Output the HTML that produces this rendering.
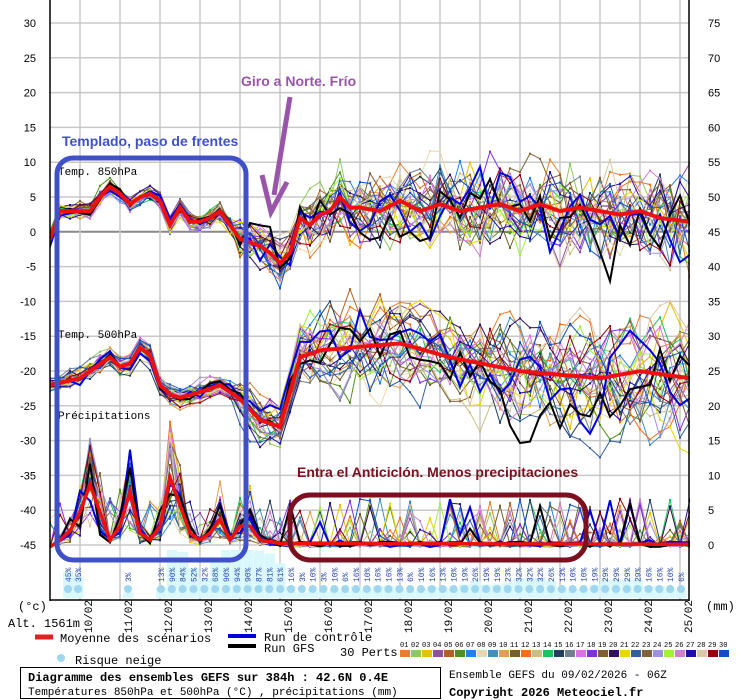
<!DOCTYPE html>
<html><head><meta charset="utf-8"><style>
body{margin:0;background:#fff;}
svg{display:block;font-family:"Liberation Mono",monospace;}
</style></head><body>
<svg id="s" width="740" height="700" xmlns="http://www.w3.org/2000/svg">
<rect width="740" height="700" fill="#fff"/>
<g id="grid"></g>
<g id="cyan"></g>
<g id="series" clip-path="url(#cp)"></g>
<defs><clipPath id="cp"><rect x="50" y="0" width="640" height="600"/></clipPath></defs>
<g id="fg"></g>
<line x1="50" y1="0" x2="50" y2="601" stroke="#000" stroke-width="1.5"/>
<line x1="689" y1="0" x2="689" y2="601" stroke="#000" stroke-width="1.5"/>
<line x1="50" y1="600" x2="689" y2="600" stroke="#000" stroke-width="1.5"/>
<g font-size="11" fill="#000">
<text x="58" y="175">Temp. 850hPa</text>
<text x="58" y="338">Temp. 500hPa</text>
<text x="58" y="419">Précipitations</text>
<text x="18" y="610" font-size="12">(°c)</text>
<text x="706" y="610" font-size="12">(mm)</text>
<text x="8" y="627" font-size="12">Alt. 1561m</text>
</g>
<rect x="57" y="158" width="189" height="402" rx="16" fill="none" stroke="#4050c8" stroke-width="5"/>
<text x="62" y="146" font-family="Liberation Sans,sans-serif" font-weight="bold" font-size="14" fill="#4050c8">Templado, paso de frentes</text>
<text x="241" y="86" font-family="Liberation Sans,sans-serif" font-weight="bold" font-size="14" fill="#9955aa">Giro a Norte. Frío</text>
<line x1="290" y1="97" x2="274" y2="195" stroke="#9955aa" stroke-width="5"/>
<polyline points="262,175 271,212 287,182" fill="none" stroke="#9955aa" stroke-width="5"/>
<rect x="290" y="495" width="296" height="65" rx="20" fill="none" stroke="#7a1020" stroke-width="5"/>
<text x="297" y="477" font-family="Liberation Sans,sans-serif" font-weight="bold" font-size="14" fill="#7a1020">Entra el Anticiclón. Menos precipitaciones</text>
<line x1="35" y1="637" x2="53" y2="637" stroke="#e02020" stroke-width="5"/>
<text x="60" y="642" font-size="12">Moyenne des scénarios</text>
<line x1="228" y1="636" x2="256" y2="636" stroke="#0000dd" stroke-width="4"/>
<text x="264" y="641" font-size="12">Run de contrôle</text>
<line x1="228" y1="646" x2="256" y2="646" stroke="#000" stroke-width="4"/>
<text x="264" y="652" font-size="12">Run GFS</text>
<text x="340" y="656" font-size="12">30 Perts.</text>
<g id="perts"></g>
<circle cx="61" cy="658" r="4" fill="#9fd6f0"/>
<text x="75" y="664" font-size="12">Risque neige</text>
<rect x="20.5" y="667.5" width="420" height="31" fill="none" stroke="#000"/>
<text x="28" y="681" font-size="12" font-weight="bold">Diagramme des ensembles GEFS sur 384h : 42.6N 0.4E</text>
<text x="28" y="695" font-size="11">Températures 850hPa et 500hPa (°C) , précipitations (mm)</text>
<text x="449" y="678" font-size="11">Ensemble GEFS du 09/02/2026 - 06Z</text>
<text x="449" y="696" font-size="12" font-weight="bold">Copyright 2026 Meteociel.fr</text>
</svg>
<script>
(function(){
var NS="http://www.w3.org/2000/svg";
function el(p,t,a,txt){var e=document.createElementNS(NS,t);for(var k in a)e.setAttribute(k,a[k]);if(txt!=null)e.textContent=txt;p.appendChild(e);return e;}
var grid=document.getElementById('grid'),ser=document.getElementById('series'),cy=document.getElementById('cyan'),fg=document.getElementById('fg');
for(var i=0;i<16;i++){var y=23+i*34.8;el(grid,'line',{x1:50,x2:689,y1:y,y2:y,stroke:i==6?'#888':'#c8c8c8','stroke-width':i==6?2:1.5});}
for(var x=80;x<689;x+=40){el(grid,'line',{x1:x,x2:x,y1:0,y2:600,stroke:'#c8c8c8','stroke-width':1.5});}
var L=[30,25,20,15,10,5,0,-5,-10,-15,-20,-25,-30,-35,-40,-45];
for(var i=0;i<16;i++){el(fg,'text',{x:36,y:23+i*34.8+4,'text-anchor':'end','font-size':11,'font-family':'Liberation Sans,sans-serif'},L[i]);el(fg,'text',{x:708,y:23+i*34.8+4,'font-size':11,'font-family':'Liberation Sans,sans-serif'},75-5*i);}
for(var d=0;d<16;d++){var x=80+d*40+12;var dd=(10+d)+'/02';el(fg,'text',{x:0,y:0,'font-size':11,transform:'translate('+x+',633) rotate(-90)'},dd);}
var cols=['#e08030','#90c860','#e8c000','#9050a0','#b06020','#509020','#2080f0','#e8d8b0','#4090c0','#e0a050','#706030','#f07020','#c8c080','#20c060','#204060','#708090','#e070e0','#8030e0','#806030','#301060','#e8d800','#3060a0','#806040','#a090e0','#a0f040','#d080d0','#2010a0','#d8c8a8','#900010','#1050c0'];
var pg=document.getElementById('perts');
for(var i=0;i<30;i++){var n=(i+1<10?'0':'')+(i+1);el(pg,'text',{x:400+i*11,y:647,'font-size':7},n);el(pg,'rect',{x:400+i*11,y:650,width:10,height:7,fill:cols[i]});}
var pc=[13,90,84,52,32,68,90,94,90,87,81,61,16,3,10,3,10,6,16,10,16,16,13,6,10,16,13,10,19,26,19,19,23,32,32,32,26,13,10,10,19,29,29,29,29,16,16,10,6];
var snow=[[68,45],[78,35],[128,3]];
var sp=(681-161)/(pc.length-1);
for(var i=0;i<pc.length;i++)snow.push([161+i*sp,pc[i]]);
snow.forEach(function(s){
 var h=Math.min(48,4+s[1]*0.5);
 el(cy,'rect',{x:s[0]-5,y:598-h,width:10.5,height:h,fill:'#d8f8fc'});
 el(fg,'text',{x:0,y:0,'font-size':8,fill:'#2244aa',transform:'translate('+(s[0]+3)+',582) rotate(-90)'},s[1]+'%');
 el(fg,'circle',{cx:s[0],cy:589,r:4,fill:'#9fd6f0'});
});
var seed=7;function rnd(){seed=(seed*16807)%2147483647;return seed/2147483647;}
function gau(){return (rnd()+rnd()+rnd()-1.5)*1.4;}
function interp(k,x){if(x<=k[0][0])return k[0][1];for(var i=1;i<k.length;i++){if(x<=k[i][0]){var a=k[i-1],b=k[i];return a[1]+(b[1]-a[1])*(x-a[0])/(b[0]-a[0]);}}return k[k.length-1][1];}
var m850=[[50,-1],[60,3],[70,3],[80,3],[90,3],[100,5],[110,6.5],[120,5.5],[130,4],[140,5],[150,5.5],[160,4.5],[170,1],[180,3.5],[190,1.5],[200,1.5],[210,2],[220,3],[230,1],[240,-1],[250,-1.5],[260,-2],[270,-3],[280,-4.5],[290,-3],[300,2],[310,1],[320,2.5],[330,3],[340,5],[350,3.5],[360,3.5],[380,3],[400,4.5],[420,3],[440,4],[460,3],[480,3.5],[500,4],[520,3],[540,4],[560,3],[580,3.5],[600,3],[620,2.5],[640,3],[660,2],[689,1.5]];
var m500=[[50,-22],[80,-21],[100,-19],[110,-18],[125,-20],[145,-15.5],[160,-22],[175,-24],[200,-23],[220,-22],[240,-24],[260,-27],[280,-28],[300,-18],[320,-17],[360,-16.5],[400,-16],[450,-18],[520,-20],[600,-21],[640,-20],[689,-21]];
var mp=[[50,0],[60,1],[75,3],[90,9],[100,5],[110,1],[120,3],[130,8],[140,2],[150,1],[160,3],[170,10],[180,6],[190,2],[200,1],[210,2],[220,4],[230,1],[240,3],[250,3],[260,1],[280,0.5],[689,0.4]];
var xs=[];for(var x=50;x<=690;x+=10)xs.push(x);
function yT(t){return 232-t*6.96;}function yP(p){return 547-p*6.96;}
function sd(x){return x<235?0.7:(x<300?1.8:2.7+(x-300)*0.004);}
function pts(arr){return arr.map(function(p){return p[0]+','+p[1].toFixed(1);}).join(' ');}
var members=[];
for(var m=0;m<32;m++){
 var d1=0,d2=0,a=[],b=[],c=[];
 xs.forEach(function(x){
  d1=0.55*d1+gau()*sd(x);d2=0.75*d2+gau()*sd(x);
  a.push([x,yT(interp(m850,x)+d1)]);b.push([x,yT(interp(m500,x)+d2)]);
  var p;if(x<280){p=interp(mp,x)*(0.3+rnd()*1.5)+(rnd()<0.1?rnd()*6:0);}else{p=rnd()<0.18?rnd()*7:rnd()*0.8;}
  c.push([x,yP(Math.max(0,p))]);
 });
 members.push([a,b,c]);
}
for(var m=0;m<32;m++){
 var col=m<30?cols[m]:(m==30?'#0000dd':'#000'),w=m<30?1:2;
 members[m].forEach(function(a){el(ser,'polyline',{points:pts(a),fill:'none',stroke:col,'stroke-width':w});
  if(m<30)a.forEach(function(p){el(ser,'rect',{x:p[0]-1,y:p[1]-1,width:2,height:2,fill:col});});});
}
[m850,m500].forEach(function(k){el(ser,'polyline',{points:pts(xs.map(function(x){return [x,yT(interp(k,x))];})),fill:'none',stroke:'#ee1010','stroke-width':4});});
el(ser,'polyline',{points:pts(xs.map(function(x){return [x,yP(interp(mp,x))];})),fill:'none',stroke:'#ee1010','stroke-width':3.5});
})();
</script>
</body></html>
